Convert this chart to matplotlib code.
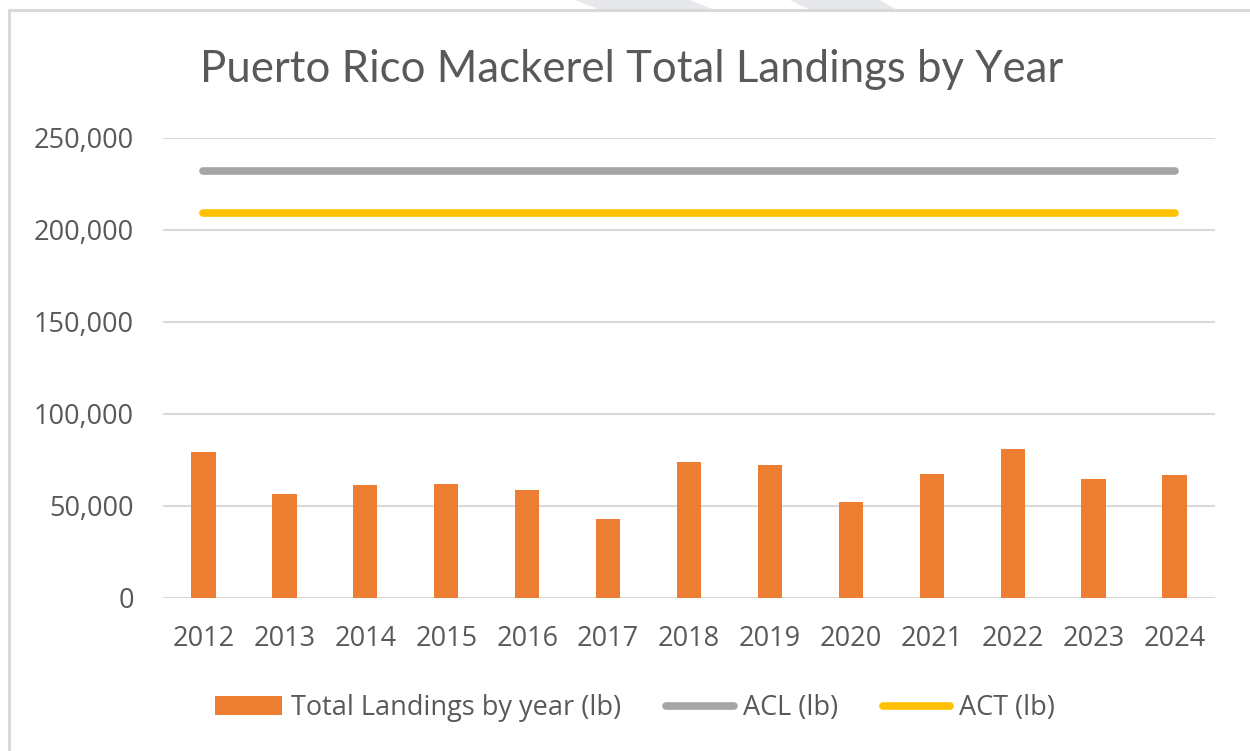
"""
Puerto Rico mackerel landings vs ACL / ACT
"""

import matplotlib
matplotlib.use("Agg")
import matplotlib.pyplot as plt
from matplotlib.ticker import FuncFormatter
from matplotlib.lines import Line2D
from matplotlib.patches import Polygon

# ---------- Data ----------
years = ["2012", "2013", "2014", "2015", "2016", "2017", "2018",
         "2019", "2020", "2021", "2022", "2023", "2024"]
landings = [79300, 56500, 61000, 61900, 58400, 42800, 73800,
            72000, 51900, 67300, 80900, 64500, 66600]
acl = [232000] * len(years)
act = [208800] * len(years)
y_ticks = [0, 50000, 100000, 150000, 200000, 250000]

TEXT = "#595959"
GRID = "#D9D9D9"
ORANGE = "#ED7D31"
GRAY = "#A5A5A5"
YELLOW = "#FFC000"

plt.rcParams["font.family"] = ["Open Sans", "DejaVu Sans"]

W, H = 1250, 751
fig = plt.figure(figsize=(W / 100, H / 100), dpi=100)
fig.patch.set_facecolor("white")

# faint watermark bands above the frame
for pts in ([(575, 0), (690, 0), (712, 9), (598, 9)],
            [(790, 0), (880, 0), (895, 9), (808, 9)]):
    fig.add_artist(Polygon([(x / W, 1 - y / H) for x, y in pts],
                           closed=True, transform=fig.transFigure,
                           facecolor="#E7E8EC", edgecolor="none"))

# chart frame (left + top edges visible)
fig.add_artist(Line2D([9 / W, 9 / W], [0, 1 - 10 / H], transform=fig.transFigure,
                      color=GRID, linewidth=2.2))
fig.add_artist(Line2D([9 / W, 1], [1 - 10 / H, 1 - 10 / H], transform=fig.transFigure,
                      color=GRID, linewidth=2.2))

# ---------- Axes ----------
left, right = 163, 1215
top, bottom = 137.5, 597.5
ax = fig.add_axes([left / W, 1 - bottom / H, (right - left) / W, (bottom - top) / H])

x = list(range(len(years)))
bars = ax.bar(x, landings, width=0.30, color=ORANGE, zorder=3,
              label="Total Landings by year (lb)")
l_acl, = ax.plot(x, acl, color=GRAY, linewidth=5.5, solid_capstyle="round",
                 zorder=4, label="ACL (lb)")
l_act, = ax.plot(x, act, color=YELLOW, linewidth=5.5, solid_capstyle="round",
                 zorder=4, label="ACT (lb)")

ax.set_xlim(-0.5, len(years) - 0.5)
ax.set_ylim(0, 250000)
ax.set_yticks(y_ticks)
ax.yaxis.set_major_formatter(FuncFormatter(lambda v, p: f"{int(v):,}"))
ax.set_xticks(x)
ax.set_xticklabels(years)

ax.grid(axis="y", color=GRID, linewidth=1.5, zorder=0)
ax.set_axisbelow(True)
for s in ax.spines.values():
    s.set_visible(False)
ax.tick_params(axis="both", length=0, labelsize=19.5, labelcolor=TEXT)
ax.tick_params(axis="y", pad=21)
ax.tick_params(axis="x", pad=20)

fig.text(632 / W, 1 - 69 / H, "Puerto Rico Mackerel Total Landings by Year",
         ha="center", va="center", fontsize=31.5, color=TEXT,
         family=["Lato", "DejaVu Sans"])

leg = fig.legend(handles=[bars, l_acl, l_act], loc="center",
                 bbox_to_anchor=(635 / W, 1 - 708 / H), ncol=3, frameon=False,
                 fontsize=19.5, handlelength=2.5, handletextpad=0.33,
                 columnspacing=1.65)
for t in leg.get_texts():
    t.set_color(TEXT)

fig.savefig("out.png", dpi=100)
plt.close(fig)
